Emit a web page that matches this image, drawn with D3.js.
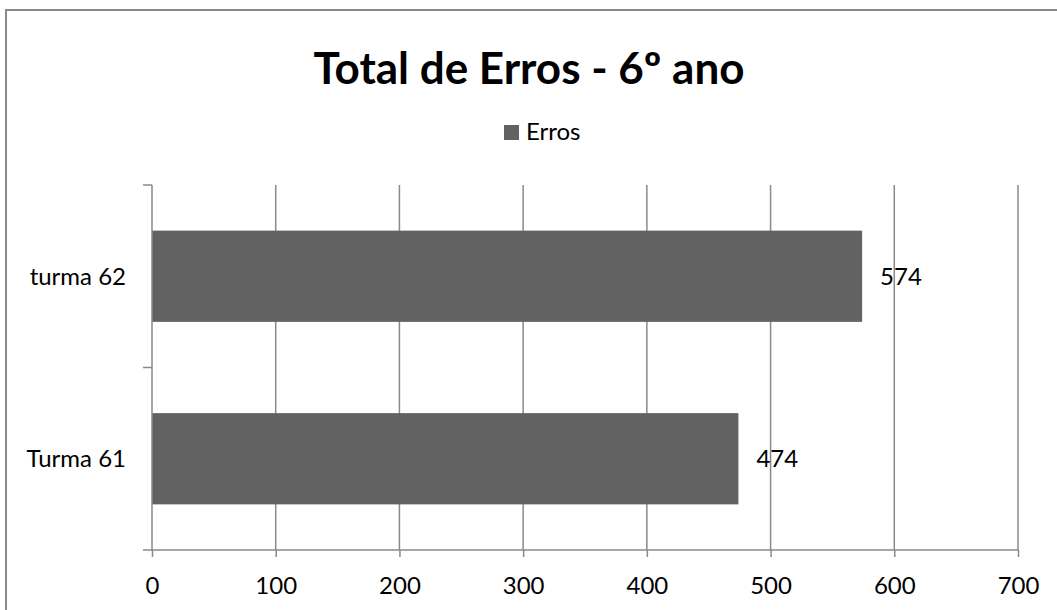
<!DOCTYPE html>
<html>
<head>
<meta charset="utf-8">
<script src="https://cdn.jsdelivr.net/npm/d3@7"></script>
<style>
  body { margin: 0; background: #fff; }
  text { font-family: Lato, "Open Sans", sans-serif; fill: #000; }
</style>
</head>
<body>
<div id="chart"></div>
<script>
// data
var categories = ["turma 62", "Turma 61"];
var values = [574, 474];
var xTicks = [0, 100, 200, 300, 400, 500, 600, 700];
var seriesName = "Erros";
var titleText = "Total de Erros - 6\u00ba ano";

var W = 1057, H = 610;
var plotLeft = 152, plotRight = 1018, plotTop = 185, plotBottom = 550;
var barColor = "#626262", gridColor = "#8a8a8a";

var svg = d3.select("#chart").append("svg")
    .attr("width", W)
    .attr("height", H);

// outer frame
svg.append("rect")
    .attr("x", 6).attr("y", 10)
    .attr("width", 1100).attr("height", 700)
    .attr("fill", "none")
    .attr("stroke", "#8a8a8a")
    .attr("stroke-width", 2);

var x = d3.scaleLinear().domain([0, 700]).range([plotLeft, plotRight]);
var y = d3.scaleBand().domain(categories).range([plotTop, plotBottom])
    .paddingInner(0.5).paddingOuter(0.25);

// vertical gridlines
svg.append("g").selectAll("line")
    .data(xTicks.slice(1))
    .enter().append("line")
    .attr("x1", function(d) { return x(d); })
    .attr("x2", function(d) { return x(d); })
    .attr("y1", plotTop).attr("y2", plotBottom)
    .attr("stroke", gridColor)
    .attr("stroke-width", 1.5);

// bars
svg.append("g").selectAll("rect")
    .data(values)
    .enter().append("rect")
    .attr("x", x(0))
    .attr("y", function(d, i) { return y(categories[i]); })
    .attr("width", function(d) { return x(d) - x(0); })
    .attr("height", y.bandwidth())
    .attr("fill", barColor);

// x axis
var xAxis = svg.append("g")
    .attr("transform", "translate(0," + plotBottom + ")")
    .call(d3.axisBottom(x).tickValues(xTicks).tickSize(7).tickPadding(20).tickSizeOuter(0));
xAxis.select(".domain").attr("stroke", gridColor).attr("stroke-width", 1.5)
    .attr("d", "M" + (plotLeft - 9) + ",0H" + plotRight);
xAxis.selectAll(".tick line").attr("stroke", gridColor).attr("stroke-width", 1.5);
xAxis.selectAll(".tick text")
    .style("font-size", "24px")
    .style("font-family", "Lato, sans-serif")
    .attr("fill", "#000");

// y axis (category), ticks on band boundaries
var yAxis = svg.append("g").attr("transform", "translate(" + plotLeft + ",0)");
yAxis.append("line")
    .attr("x1", 0).attr("x2", 0)
    .attr("y1", plotTop).attr("y2", plotBottom)
    .attr("stroke", gridColor).attr("stroke-width", 1.5);
var bounds = [plotTop, plotTop + y.step()];
yAxis.selectAll(".yt").data(bounds).enter().append("line")
    .attr("x1", -9).attr("x2", 0)
    .attr("y1", function(d) { return d; })
    .attr("y2", function(d) { return d; })
    .attr("stroke", gridColor).attr("stroke-width", 1.5);
yAxis.selectAll(".ylab").data(categories).enter().append("text")
    .attr("x", -26)
    .attr("y", function(d) { return y(d) + y.bandwidth() / 2; })
    .attr("dy", "0.35em")
    .attr("text-anchor", "end")
    .style("font-size", "24px")
    .text(function(d) { return d; });

// value labels
svg.append("g").selectAll("text")
    .data(values)
    .enter().append("text")
    .attr("x", function(d) { return x(d) + 18; })
    .attr("y", function(d, i) { return y(categories[i]) + y.bandwidth() / 2; })
    .attr("dy", "0.35em")
    .style("font-size", "24px")
    .text(function(d) { return d; });

// title
svg.append("text")
    .attr("x", 529).attr("y", 84)
    .attr("text-anchor", "middle")
    .style("font-size", "44px")
    .style("font-weight", "bold")
    .text(titleText);

// legend
svg.append("rect")
    .attr("x", 504).attr("y", 125)
    .attr("width", 15).attr("height", 15)
    .attr("fill", barColor);
svg.append("text")
    .attr("x", 526).attr("y", 140)
    .style("font-size", "24px")
    .text(seriesName);
</script>
</body>
</html>
